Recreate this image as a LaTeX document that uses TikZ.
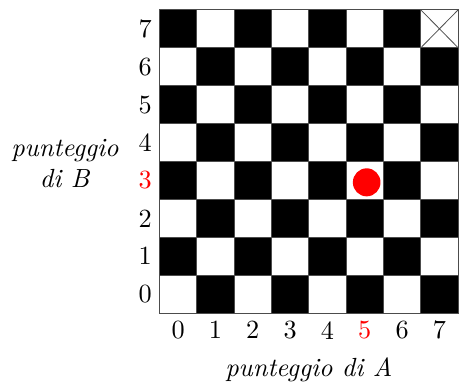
\documentclass[tikz,border=0pt]{standalone}
\begin{document}
\begin{tikzpicture}[x=0.5cm, y=0.5076cm,
  cella/.style={draw=black!70, line width=0.3pt},
  numero/.style={inner sep=1pt}]
\useasboundingbox (-4.27,-1.82) rectangle (8.05,8.26);
% scacchiera
\foreach \i in {0,...,7}{
  \foreach \j in {0,...,7}{
    \pgfmathtruncatemacro{\parita}{mod(\i+\j,2)}
    \ifnum\parita=1
      \fill[black] (\i,\j) rectangle ++(1,1);
    \fi
    \draw[cella] (\i,\j) rectangle ++(1,1);
  }
}
\draw[cella] (7,7) -- (8,8) (7,8) -- (8,7);
\fill[red] (5.55,3.45) circle (0.37);
% numeri
\foreach \k in {0,1,2,3,4,6,7}{
  \node[numero] (x\k) at (\k+0.5,-0.45) {\k};
}
\foreach \k in {0,1,2,4,5,6,7}{
  \node[numero] (y\k) at (-0.38,\k+0.5) {\k};
}
\node[numero, text=red] (x5) at (5.5,-0.45) {5};
\node[numero, text=red] (y3) at (-0.38,3.5) {3};
\node (asseA) at (4,-1.5) {\textit{punteggio di A}};
\node[align=center] (asseB) at (-2.53,3.95) {\textit{punteggio}\\\textit{di B}};
\end{tikzpicture}
\end{document}
